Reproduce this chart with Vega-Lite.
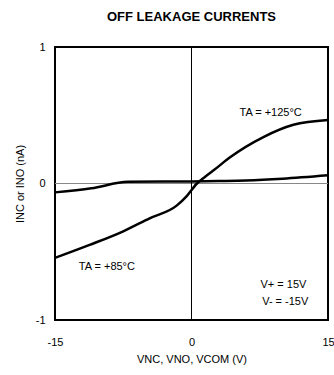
{
  "$schema": "https://vega.github.io/schema/vega-lite/v6.json",
  "autosize": "none",
  "width": 273,
  "height": 273,
  "padding": {"left": 55, "top": 47, "right": 6, "bottom": 55},
  "background": "white",
  "title": {"text": "OFF LEAKAGE CURRENTS", "font": "Liberation Sans", "fontSize": 13, "fontWeight": "bold", "color": "black", "anchor": "middle", "offset": 17},
  "config": {
    "view": {"stroke": "black", "strokeWidth": 2},
    "axis": {"grid": false, "ticks": false, "domain": false, "labelFlush": false, "labelOverlap": false, "labelFont": "Liberation Sans", "labelFontSize": 11, "labelColor": "black", "titleFont": "Liberation Sans", "titleFontSize": 11, "titleFontWeight": "normal", "titleColor": "black"},
    "text": {"font": "Liberation Sans", "fontSize": 11, "color": "black"}
  },
  "datasets": {
    "curves": [
      {"series": "steep", "v": -15, "i": -0.545},
      {"series": "steep", "v": -11.2, "i": -0.45},
      {"series": "steep", "v": -7.5, "i": -0.35},
      {"series": "steep", "v": -4.6, "i": -0.255},
      {"series": "steep", "v": -1.6, "i": -0.16},
      {"series": "steep", "v": -0.5, "i": -0.09},
      {"series": "steep", "v": 0.6, "i": 0.0},
      {"series": "steep", "v": 1.5, "i": 0.05},
      {"series": "steep", "v": 2.5, "i": 0.1},
      {"series": "steep", "v": 4.2, "i": 0.19},
      {"series": "steep", "v": 7.9, "i": 0.34},
      {"series": "steep", "v": 11.2, "i": 0.43},
      {"series": "steep", "v": 15, "i": 0.465},
      {"series": "flat", "v": -15, "i": -0.065},
      {"series": "flat", "v": -11, "i": -0.035},
      {"series": "flat", "v": -7, "i": 0.012},
      {"series": "flat", "v": -3, "i": 0.014},
      {"series": "flat", "v": 0, "i": 0.015},
      {"series": "flat", "v": 3, "i": 0.018},
      {"series": "flat", "v": 6, "i": 0.022},
      {"series": "flat", "v": 10, "i": 0.035},
      {"series": "flat", "v": 15, "i": 0.06}
    ],
    "labels": [
      {"v": 8.7, "i": 0.52, "t": "TA = +125°C"},
      {"v": -9.3, "i": -0.61, "t": "TA = +85°C"},
      {"v": 10.1, "i": -0.74, "t": "V+ = 15V"},
      {"v": 10.3, "i": -0.87, "t": "V- = -15V"}
    ]
  },
  "layer": [
    {
      "data": {"values": [{"y": 0}]},
      "mark": {"type": "rule", "color": "#888888", "strokeWidth": 1},
      "encoding": {"y": {"field": "y", "type": "quantitative", "scale": {"domain": [-1, 1]}}}
    },
    {
      "data": {"values": [{"x": 0}]},
      "mark": {"type": "rule", "color": "black", "strokeWidth": 1},
      "encoding": {"x": {"field": "x", "type": "quantitative", "scale": {"domain": [-15, 15]}}}
    },
    {
      "data": {"name": "curves"},
      "mark": {"type": "line", "color": "black", "strokeWidth": 2.5, "interpolate": "monotone"},
      "encoding": {
        "x": {"field": "v", "type": "quantitative", "scale": {"domain": [-15, 15], "nice": false},
          "axis": {"values": [-15, 0, 15], "labelExpr": "'' + datum.value", "labelPadding": 16, "title": "VNC, VNO, VCOM (V)", "titlePadding": 6}},
        "y": {"field": "i", "type": "quantitative", "scale": {"domain": [-1, 1], "nice": false},
          "axis": {"values": [-1, 0, 1], "labelExpr": "'' + datum.value", "labelPadding": 10, "title": "INC or INO (nA)", "titlePadding": 10}},
        "detail": {"field": "series"}
      }
    },
    {
      "data": {"name": "labels"},
      "mark": {"type": "text", "align": "center", "baseline": "middle"},
      "encoding": {
        "x": {"field": "v", "type": "quantitative"},
        "y": {"field": "i", "type": "quantitative"},
        "text": {"field": "t"}
      }
    }
  ]
}
